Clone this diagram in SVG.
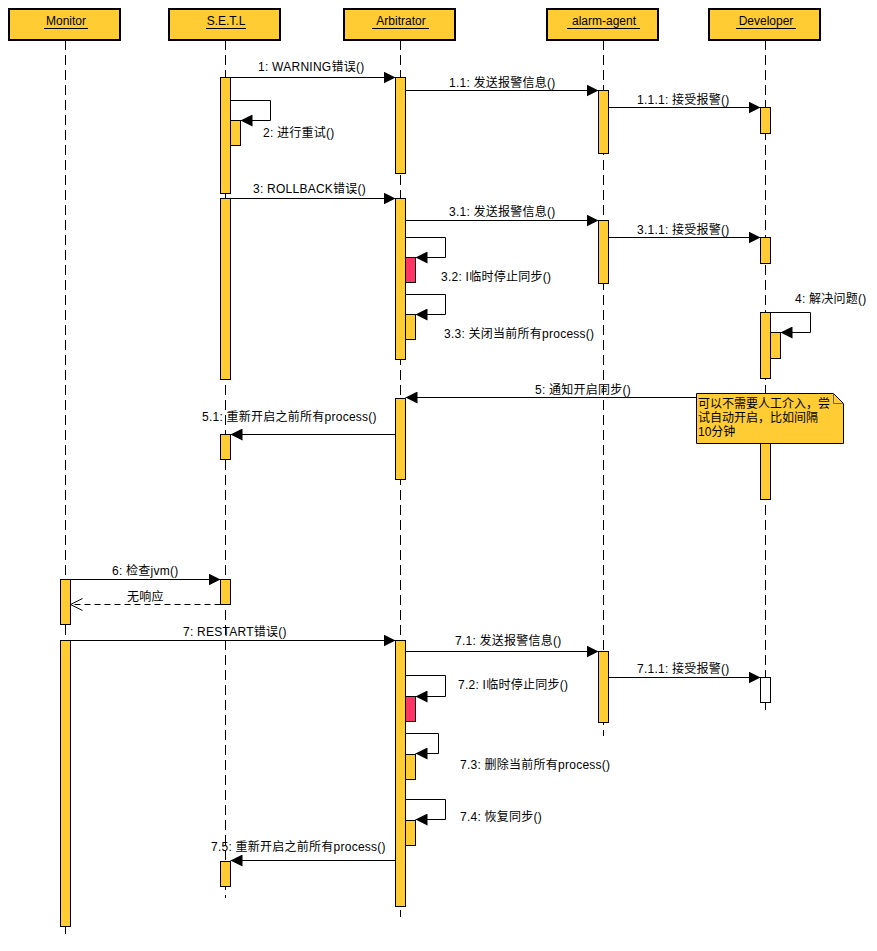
<svg xmlns="http://www.w3.org/2000/svg" width="877" height="951" viewBox="0 0 877 951">
  <style>
    .head { fill: #FFCC33; stroke: #000; stroke-width: 2; }
    .life { stroke: #000; stroke-width: 1; stroke-dasharray: 10 5; fill: none; }
    .act { fill: #FFCC33; stroke: #000; stroke-width: 1; }
    .hot { fill: #FF3366; stroke: #000; stroke-width: 1; }
    .blank { fill: #FFFFFF; stroke: #000; stroke-width: 1; }
    .msg { stroke: #000; stroke-width: 1; fill: none; marker-end: url(#solid); }
    .ret { stroke: #000; stroke-width: 1; fill: none; stroke-dasharray: 6 4; marker-end: url(#open); }
    .uline { stroke: #000; stroke-width: 1; }
    text { font-family: "Liberation Sans", "Noto Sans CJK SC", sans-serif; font-size: 12px; fill: #000; }
    #labels text { letter-spacing: 0.25px; }
    .title { text-anchor: middle; }
    .note { fill: #FFCC33; stroke: #000; stroke-width: 1; }
  </style>
  <defs>
    <marker id="solid" markerUnits="userSpaceOnUse" markerWidth="12" markerHeight="12" refX="12" refY="6" orient="auto">
      <path d="M0,0 L12,6 L0,12 z" fill="#000"/>
    </marker>
    <marker id="open" markerUnits="userSpaceOnUse" markerWidth="14" markerHeight="14" refX="12" refY="7" orient="auto">
      <path d="M0,1 L12,7 L0,13" fill="none" stroke="#000" stroke-width="1"/>
    </marker>
  </defs>

  <rect width="877" height="951" fill="#FFFFFF"/>

  <!-- Monitor -->
  <g id="monitor">
    <line class="life" x1="65.5" y1="40" x2="65.5" y2="934"/>
    <rect class="head" x="9" y="9" width="111" height="31"/>
    <text class="title" x="66" y="25">Monitor</text>
    <line class="uline" x1="44" y1="28.5" x2="88" y2="28.5"/>
    <rect class="act" x="60.5" y="579.5" width="10" height="45"/>
    <rect class="act" x="60.5" y="640.5" width="10" height="286"/>
  </g>

  <!-- S.E.T.L -->
  <g id="setl">
    <line class="life" x1="225.5" y1="40" x2="225.5" y2="898"/>
    <rect class="head" x="169" y="9" width="111" height="31"/>
    <text class="title" x="226" y="25">S.E.T.L</text>
    <line class="uline" x1="206" y1="28.5" x2="246" y2="28.5"/>
    <rect class="act" x="220.5" y="77.5" width="10" height="116"/>
    <rect class="act" x="230.5" y="120.5" width="10" height="25"/>
    <rect class="act" x="220.5" y="198.5" width="10" height="181"/>
    <rect class="act" x="220.5" y="434.5" width="10" height="25"/>
    <rect class="act" x="220.5" y="579.5" width="10" height="25"/>
    <rect class="act" x="220.5" y="861.5" width="10" height="25"/>
  </g>

  <!-- Arbitrator -->
  <g id="arbitrator">
    <line class="life" x1="400.5" y1="40" x2="400.5" y2="917"/>
    <rect class="head" x="344" y="9" width="111" height="31"/>
    <text class="title" x="401" y="25">Arbitrator</text>
    <line class="uline" x1="372" y1="28.5" x2="429" y2="28.5"/>
    <rect class="act" x="395.5" y="77.5" width="10" height="96"/>
    <rect class="act" x="395.5" y="198.5" width="10" height="161"/>
    <rect class="hot" x="405.5" y="257.5" width="10" height="25"/>
    <rect class="act" x="405.5" y="314.5" width="10" height="25"/>
    <rect class="act" x="395.5" y="398.5" width="10" height="81"/>
    <rect class="act" x="395.5" y="640.5" width="10" height="266"/>
    <rect class="hot" x="405.5" y="696.5" width="10" height="25"/>
    <rect class="act" x="405.5" y="754.5" width="10" height="25"/>
    <rect class="act" x="405.5" y="820.5" width="10" height="25"/>
  </g>

  <!-- alarm-agent -->
  <g id="alarm-agent">
    <line class="life" x1="603.5" y1="40" x2="603.5" y2="736"/>
    <rect class="head" x="547" y="9" width="111" height="31"/>
    <text class="title" x="604" y="25">alarm-agent</text>
    <line class="uline" x1="567" y1="28.5" x2="640" y2="28.5"/>
    <rect class="act" x="598.5" y="90.5" width="10" height="63"/>
    <rect class="act" x="598.5" y="220.5" width="10" height="63"/>
    <rect class="act" x="598.5" y="651.5" width="10" height="71"/>
  </g>

  <!-- Developer -->
  <g id="developer">
    <line class="life" x1="765.5" y1="40" x2="765.5" y2="714"/>
    <rect class="head" x="709" y="9" width="111" height="31"/>
    <text class="title" x="766" y="25">Developer</text>
    <line class="uline" x1="736" y1="28.5" x2="796" y2="28.5"/>
    <rect class="act" x="760.5" y="107.5" width="10" height="26"/>
    <rect class="act" x="760.5" y="237.5" width="10" height="26"/>
    <rect class="act" x="760.5" y="312.5" width="10" height="66"/>
    <rect class="act" x="770.5" y="332.5" width="10" height="26"/>
    <rect class="act" x="760.5" y="397.5" width="10" height="102"/>
    <rect class="blank" x="760.5" y="677.5" width="10" height="25"/>
  </g>

  <!-- Messages -->
  <g id="connectors">
    <line class="msg" x1="230.5" y1="77.5" x2="395.5" y2="77.5"/>
    <path class="msg" d="M230.5,100.5 H270.5 V120.5 H240.5"/>
    <line class="msg" x1="405.5" y1="90.5" x2="598.5" y2="90.5"/>
    <line class="msg" x1="608.5" y1="107.5" x2="760.5" y2="107.5"/>
    <line class="msg" x1="230.5" y1="198.5" x2="395.5" y2="198.5"/>
    <line class="msg" x1="405.5" y1="220.5" x2="598.5" y2="220.5"/>
    <line class="msg" x1="608.5" y1="237.5" x2="760.5" y2="237.5"/>
    <path class="msg" d="M405.5,237.5 H445.5 V257.5 H415.5"/>
    <path class="msg" d="M405.5,294.5 H445.5 V314.5 H415.5"/>
    <path class="msg" d="M770.5,312.5 H810.5 V332.5 H780.5"/>
    <line class="msg" x1="760.5" y1="397.5" x2="405.5" y2="397.5"/>
    <line class="msg" x1="395.5" y1="434.5" x2="230.5" y2="434.5"/>
    <line class="msg" x1="70.5" y1="579.5" x2="220.5" y2="579.5"/>
    <line class="ret" x1="220.5" y1="604.5" x2="70.5" y2="604.5"/>
    <line class="msg" x1="70.5" y1="640.5" x2="395.5" y2="640.5"/>
    <line class="msg" x1="405.5" y1="651.5" x2="598.5" y2="651.5"/>
    <line class="msg" x1="608.5" y1="677.5" x2="760.5" y2="677.5"/>
    <path class="msg" d="M405.5,675.5 H445.5 V696.5 H415.5"/>
    <path class="msg" d="M405.5,733.5 H438.5 V753.5 H415.5"/>
    <path class="msg" d="M405.5,799.5 H445.5 V819.5 H415.5"/>
    <line class="msg" x1="395.5" y1="860.5" x2="230.5" y2="860.5"/>
  </g>

  <!-- Message labels -->
  <g id="labels">
    <text x="258" y="71">1: WARNING错误()</text>
    <text x="263" y="137">2: 进行重试()</text>
    <text x="449" y="87">1.1: 发送报警信息()</text>
    <text x="637" y="104">1.1.1: 接受报警()</text>
    <text x="253" y="193">3: ROLLBACK错误()</text>
    <text x="449" y="216">3.1: 发送报警信息()</text>
    <text x="637" y="234">3.1.1: 接受报警()</text>
    <text x="441" y="281">3.2: I临时停止同步()</text>
    <text x="444" y="338">3.3: 关闭当前所有process()</text>
    <text x="795" y="303">4: 解决问题()</text>
    <text x="535" y="394">5: 通知开启同步()</text>
    <text x="202" y="421">5.1: 重新开启之前所有process()</text>
    <text x="112" y="575">6: 检查jvm()</text>
    <text x="127" y="601">无响应</text>
    <text x="183" y="636">7: RESTART错误()</text>
    <text x="455" y="645">7.1: 发送报警信息()</text>
    <text x="637" y="673">7.1.1: 接受报警()</text>
    <text x="458" y="689">7.2: I临时停止同步()</text>
    <text x="460" y="769">7.3: 删除当前所有process()</text>
    <text x="460" y="821">7.4: 恢复同步()</text>
    <text x="211" y="851">7.5: 重新开启之前所有process()</text>
  </g>

  <!-- Note -->
  <g id="note">
    <path class="note" d="M696.5,393.5 H833.5 L843.5,403.5 V443.5 H696.5 Z"/>
    <path d="M833.5,393.5 V403.5 H843.5" fill="none" stroke="#666" stroke-width="1"/>
    <text x="698" y="408">可以不需要人工介入，尝</text>
    <text x="698" y="422">试自动开启，比如间隔</text>
    <text x="698" y="436">10分钟</text>
  </g>
</svg>
